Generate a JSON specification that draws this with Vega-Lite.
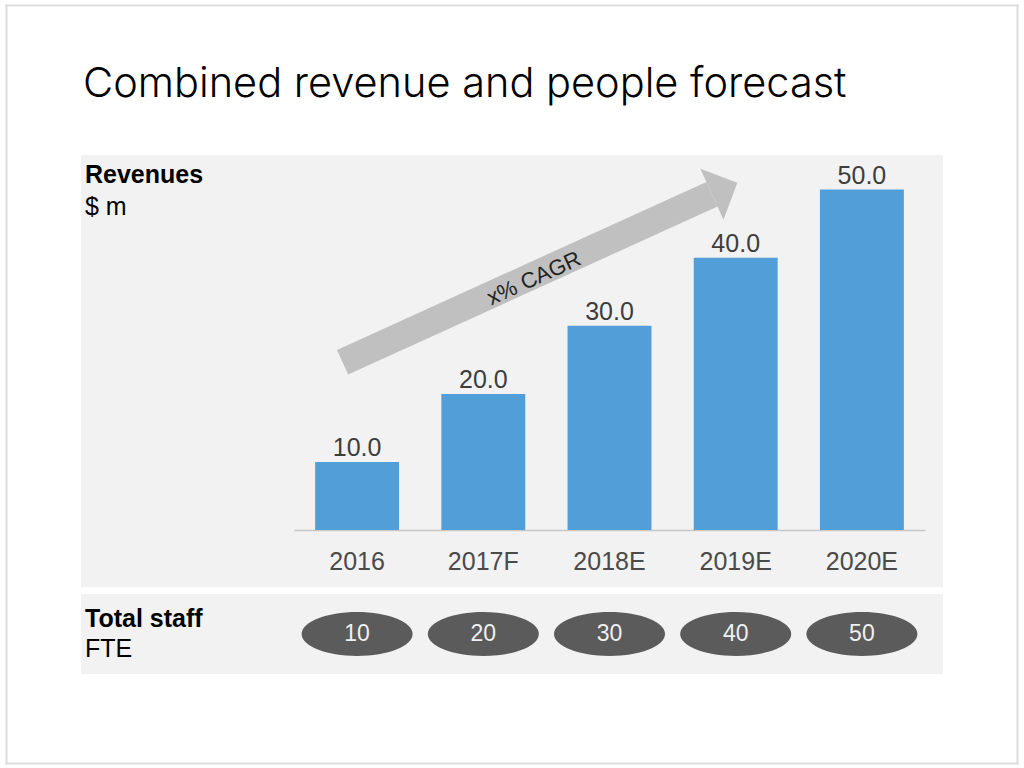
{
  "$schema": "https://vega.github.io/schema/vega-lite/v6.json",
  "background": "white",
  "padding": {"left": 4, "top": 3, "right": 5, "bottom": 4},
  "config": {
    "font": "Liberation Sans",
    "view": {"stroke": null},
    "title": {"anchor": "start", "frame": "group"}
  },
  "datasets": {
    "forecast": [
      {"year": "2016", "revenue": 10, "staff": 10},
      {"year": "2017F", "revenue": 20, "staff": 20},
      {"year": "2018E", "revenue": 30, "staff": 30},
      {"year": "2019E", "revenue": 40, "staff": 40},
      {"year": "2020E", "revenue": 50, "staff": 50}
    ],
    "growth": [{"note": "x% CAGR"}]
  },
  "title": {
    "text": "Combined revenue and people forecast",
    "font": "Inter",
    "fontSize": 41.5,
    "fontWeight": 300,
    "color": "#000000",
    "offset": -102,
    "dx": 2
  },
  "spacing": 7,
  "bounds": "flush",
  "vconcat": [
    {
      "width": 862,
      "height": 432,
      "view": {"fill": "#f2f2f2", "stroke": null},
      "title": {
        "text": "Revenues",
        "subtitle": "$ m",
        "fontSize": 25,
        "fontWeight": "bold",
        "color": "#000000",
        "subtitleFontSize": 25,
        "subtitleColor": "#000000",
        "subtitlePadding": 7,
        "offset": -216,
        "dx": 4
      },
      "data": {"name": "forecast"},
      "resolve": {"axis": {"y": "independent"}},
      "encoding": {
        "x": {
          "field": "year",
          "type": "nominal",
          "sort": null,
          "scale": {"range": [213, 844], "paddingInner": 0.335, "paddingOuter": 0.1675},
          "axis": {
            "title": null,
            "orient": "bottom",
            "offset": -57,
            "ticks": false,
            "grid": false,
            "domainColor": "#c8c8c8",
            "domainWidth": 1.5,
            "labelFontSize": 25,
            "labelColor": "#4a4a4a",
            "labelPadding": 19,
            "labelAngle": 0
          }
        }
      },
      "layer": [
        {
          "mark": {"type": "bar", "color": "#519ed8"},
          "encoding": {
            "y": {
              "field": "revenue",
              "type": "quantitative",
              "scale": {"domain": [-34.2, 77.11], "range": [608, -150], "nice": false, "zero": false},
              "axis": {
                "title": null,
                "orient": "left",
                "offset": 75,
                "labels": false,
                "grid": false,
                "values": [-34.2, 77.11],
                "ticks": true,
                "tickSize": -1011,
                "tickWidth": 2,
                "tickColor": "#dedede",
                "tickCap": "square",
                "domainColor": "#dedede",
                "domainWidth": 2,
                "domainCap": "square"
              }
            },
            "y2": {"datum": 0}
          }
        },
        {
          "mark": {"type": "text", "baseline": "alphabetic", "dy": -6, "fontSize": 25, "color": "#3d3d3d"},
          "encoding": {
            "y": {
              "field": "revenue",
              "type": "quantitative",
              "axis": {"title": null, "orient": "right", "offset": 74, "labels": false, "ticks": false, "grid": false, "domainColor": "#dedede", "domainWidth": 2, "domainCap": "square"}
            },
            "text": {"field": "revenue", "type": "quantitative", "format": ".1f"}
          }
        },
        {
          "data": {"name": "growth"},
          "mark": {"type": "rule", "color": "#c0c0c0", "strokeWidth": 27, "strokeCap": "butt"},
          "encoding": {
            "x": {"datum": "2016", "bandPosition": 0.327},
            "x2": {"datum": "2019E", "bandPosition": 0.217},
            "y": {"datum": 24.65, "axis": null},
            "y2": {"datum": 49.32}
          }
        },
        {
          "data": {"name": "growth"},
          "mark": {
            "type": "point",
            "shape": "M0,-1L1,0L0,1Z",
            "size": 3114,
            "angle": -24.45,
            "filled": true,
            "color": "#c0c0c0",
            "opacity": 1,
            "strokeWidth": 0
          },
          "encoding": {
            "x": {"datum": "2019E", "bandPosition": 0.217},
            "y": {"datum": 49.32, "axis": null}
          }
        },
        {
          "data": {"name": "growth"},
          "mark": {
            "type": "text",
            "angle": -24.45,
            "fontSize": 22,
            "color": "#222222",
            "baseline": "middle",
            "align": "center"
          },
          "encoding": {
            "x": {"datum": "2017F", "bandPosition": 1.104},
            "y": {"datum": 36.97, "axis": null},
            "text": {"field": "note", "type": "nominal"}
          }
        }
      ]
    },
    {
      "width": 862,
      "height": 80,
      "view": {"fill": "#f2f2f2", "stroke": null},
      "title": {
        "text": "Total staff",
        "subtitle": "FTE",
        "fontSize": 25,
        "fontWeight": "bold",
        "color": "#000000",
        "subtitleFontSize": 25,
        "subtitleColor": "#000000",
        "subtitlePadding": 5,
        "offset": -68,
        "dx": 4
      },
      "data": {"name": "forecast"},
      "encoding": {
        "x": {
          "field": "year",
          "type": "nominal",
          "sort": null,
          "scale": {"range": [213, 844], "paddingInner": 0.335, "paddingOuter": 0.1675},
          "axis": null
        }
      },
      "layer": [
        {
          "mark": {
            "type": "point",
            "shape": "M-1,0A1,0.396,0,1,0,1,0A1,0.396,0,1,0,-1,0Z",
            "size": 12321,
            "filled": true,
            "color": "#5b5b5b",
            "opacity": 1,
            "strokeWidth": 0
          }
        },
        {
          "mark": {"type": "text", "fontSize": 23, "color": "#f0f0f0", "baseline": "middle"},
          "encoding": {"text": {"field": "staff", "type": "quantitative"}}
        }
      ]
    }
  ]
}
